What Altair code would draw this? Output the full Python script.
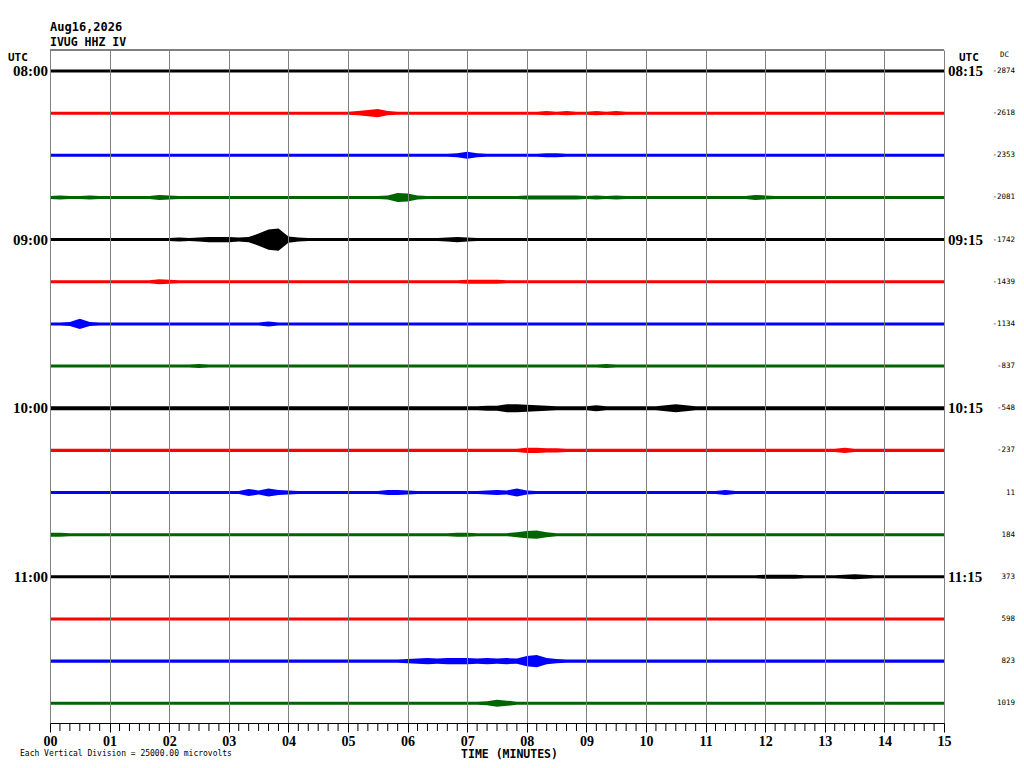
import altair as alt
import pandas as pd

# ---------------- data ----------------
DATE_LABEL = "Aug16,2026"
STATION_LABEL = "IVUG HHZ IV"
LEFT_TIMES = ["08:00", "09:00", "10:00", "11:00"]
LEFT_TRACES = [0, 4, 8, 12]
RIGHT_TIMES = ["08:15", "09:15", "10:15", "11:15"]
DC_VALUES = [-2874, -2618, -2353, -2081, -1742, -1439, -1134, -837,
             -548, -237, 11, 184, 373, 598, 823, 1019]
TRACE_COLORS = ["#000000", "#ff0000", "#0000ff", "#006400"]
MINUTE_TICKS = list(range(16))
MINOR_TICKS = [k / 6 for k in range(91) if k % 6]
SAMPLES_PER_MINUTE = 6          # one envelope knot every 10 s
AMP_UNIT_UV = 300               # one envelope step, microvolts
DIVISION_UV = 25000             # trace spacing, microvolts
SCALE_NOTE = "Each Vertical Division = 25000.00 microvolts"
X_TITLE = "TIME (MINUTES)"

# half-amplitude envelope of each 15-minute line
# (base-36 digits, knots at 0 s, 10 s, ... 900 s; grouped per minute)
ENVELOPES = [
    "333333 333333 333333 333333 333333 333333 333333 333333 333333 333333 333333 333333 333333 333333 333333 3",
    "333333 333333 333333 333333 333333 346843 333333 333333 334343 343433 333333 333333 333333 333333 333333 3",
    "333333 333333 333333 333333 333333 333333 333334 743333 334433 333333 333333 333333 333333 333333 333333 3",
    "343343 333335 433333 333333 333333 333349 843333 333333 444444 343433 333333 333335 433333 333333 333333 3",
    "333333 333333 343455 545ckm 643333 333333 333345 433333 333333 333333 333333 333333 333333 333333 333333 3",
    "333333 333335 433333 333333 333333 333333 333333 444433 333333 333333 333333 333333 333333 333333 333333 3",
    "334a43 333333 333333 333353 333333 333333 333333 333333 333333 333333 333333 333333 333333 333333 333333 3",
    "333333 333333 333433 333333 333333 333333 333333 333333 333333 334333 333333 333333 333333 333333 333333 3",
    "444444 444444 444444 444444 444444 444444 444444 445588 765444 464444 446864 444444 444444 444444 444444 4",
    "333333 333333 333333 333333 333333 333333 333333 333333 554433 333333 333333 333333 333333 335333 333333 3",
    "333333 333333 333333 337485 433333 333355 433333 334548 433333 333333 333333 335333 333333 333333 333333 3",
    "443333 333333 333333 333333 333333 333333 333334 433335 785333 333333 333333 333333 333333 333333 333333 3",
    "333333 333333 333333 333333 333333 333333 333333 333333 333333 333333 333333 333333 444433 334543 333333 3",
    "333333 333333 333333 333333 333333 333333 333333 333333 333333 333333 333333 333333 333333 333333 333333 3",
    "333333 333333 333333 333333 333333 333333 456566 656565 ac6433 333333 333333 333333 333333 333333 333333 3",
    "333333 333333 333333 333333 333333 333333 333333 334753 333333 333333 333333 333333 333333 333333 333333 3",
]

# ---------------- tables ----------------
rows = []
for i, env in enumerate(ENVELOPES):
    vals = [int(c, 36) for c in env.replace(" ", "")]
    for k, a in enumerate(vals):
        amp = a * AMP_UNIT_UV / DIVISION_UV
        rows.append({
            "trace": i,
            "t": k / SAMPLES_PER_MINUTE,
            "lo": i - amp,
            "hi": i + amp,
            "color": TRACE_COLORS[i % 4],
        })
traces = pd.DataFrame(rows)

left_df = pd.DataFrame({"trace": LEFT_TRACES, "label": LEFT_TIMES})
right_df = pd.DataFrame({"trace": LEFT_TRACES, "label": RIGHT_TIMES})
dc_df = pd.DataFrame({"trace": list(range(16)), "label": [str(v) for v in DC_VALUES]})
minor_df = pd.DataFrame({"t": MINOR_TICKS})

W, H = 894, 673
xscale = alt.Scale(domain=[0, 15], nice=False, zero=False)
yscale = alt.Scale(domain=[-0.498, 15.468], nice=False, zero=False, reverse=True)

xaxis = alt.Axis(
    values=MINUTE_TICKS, format="02d", grid=True, gridColor="#808080",
    gridOpacity=1, gridWidth=1, domainColor="black", domainWidth=1,
    tickColor="black", tickSize=9, tickWidth=1,
    labelFont="Liberation Serif", labelFontWeight="bold", labelFontSize=14,
    labelColor="black", labelPadding=2, labelFlush=False, labelOverlap=False,
    title=X_TITLE, titleFont="DejaVu Sans Mono", titleFontWeight="bold",
    titleFontSize=11.5, titleColor="black", titleX=459, titleY=34,
    titleBaseline="alphabetic", titleAlign="center", zindex=1,
)

trace_layer = alt.Chart(traces).mark_area(interpolate="linear").encode(
    x=alt.X("t:Q", scale=xscale, axis=xaxis),
    y=alt.Y("lo:Q", scale=yscale, axis=None),
    y2="hi:Q",
    color=alt.Color("color:N", scale=None),
    detail="trace:N",
)

minor_layer = alt.Chart(minor_df).mark_rule(color="black", strokeWidth=1).encode(
    x=alt.X("t:Q", scale=xscale, axis=xaxis),
    y=alt.value(H),
    y2=alt.value(H + 8),
)

top_df = pd.DataFrame({"edge": ["top"]})
top_layer = alt.Chart(top_df).mark_rule(color="black", strokeWidth=1).encode(
    x=alt.value(0), x2=alt.value(W), y=alt.value(0)
)

left_layer = alt.Chart(left_df).mark_text(
    align="right", baseline="middle", font="Liberation Serif",
    fontWeight="bold", fontSize=15, color="black"
).encode(x=alt.value(-2), y=alt.Y("trace:Q", scale=yscale, axis=None), text="label:N")

right_layer = alt.Chart(right_df).mark_text(
    align="left", baseline="middle", font="Liberation Serif",
    fontWeight="bold", fontSize=15, color="black"
).encode(x=alt.value(W + 4), y=alt.Y("trace:Q", scale=yscale, axis=None), text="label:N")

dc_layer = alt.Chart(dc_df).mark_text(
    align="right", baseline="middle", font="DejaVu Sans Mono",
    fontSize=7.5, color="black"
).encode(x=alt.value(965), y=alt.Y("trace:Q", scale=yscale, axis=None), text="label:N")

def label(text, x, y, size, weight="bold", align="left"):
    df = pd.DataFrame({"label": [text]})
    return alt.Chart(df).mark_text(
        align=align, baseline="alphabetic", font="DejaVu Sans Mono",
        fontWeight=weight, fontSize=size, color="black"
    ).encode(x=alt.value(x), y=alt.value(y), text="label:N")

header1 = label(DATE_LABEL, 0, -19, 12)
header2 = label(STATION_LABEL, 0, -4, 11.5)
utc_left = label("UTC", -42, 11, 11)
utc_right = label("UTC", 909, 11, 11)
dc_head = label("DC", 950, 7, 7.5, weight="normal")
note = label(SCALE_NOTE, -30, 706, 8, weight="normal")

chart = alt.layer(
    trace_layer, minor_layer, top_layer, left_layer, right_layer, dc_layer,
    header1, header2, utc_left, utc_right, dc_head, note,
).properties(
    width=W, height=H,
    padding={"left": 42, "top": 42, "right": 72, "bottom": 37},
    autosize=alt.AutoSizeParams(type="none"),
    background="white",
).configure_view(stroke=None)

chart.save("out.html", embed_options={"renderer": "svg", "actions": False})
